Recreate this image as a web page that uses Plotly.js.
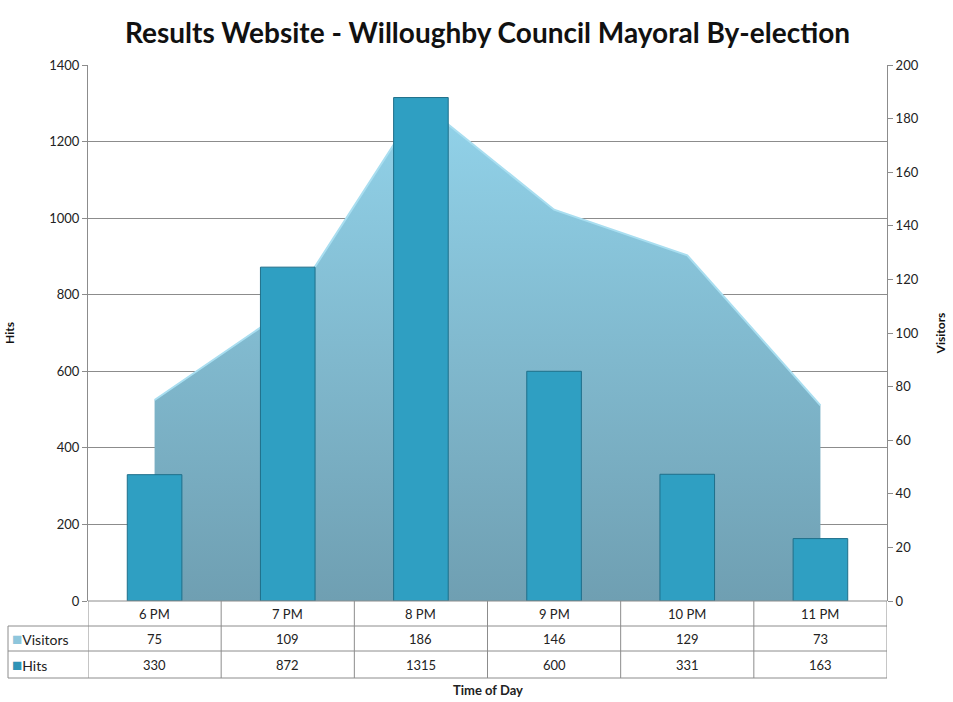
<!DOCTYPE html>
<html>
<head>
<meta charset="utf-8">
<script src="https://cdn.plot.ly/plotly-3.0.1.min.js"></script>
<style>html,body{margin:0;padding:0;background:#fff;}#chart{width:953px;height:702px;}</style>
</head>
<body>
<div id="chart"></div>
<script>
const categories = ['6 PM', '7 PM', '8 PM', '9 PM', '10 PM', '11 PM'];
const visitors = [75, 109, 186, 146, 129, 73];
const hits = [330, 872, 1315, 600, 331, 163];
const hitsTicks = [0, 200, 400, 600, 800, 1000, 1200, 1400];
const visitorTicks = [0, 20, 40, 60, 80, 100, 120, 140, 160, 180, 200];
const rowLabels = ['Visitors', 'Hits'];

const FONT = 'Lato, "Open Sans", sans-serif';
const idx = categories.map((c, i) => i);

const traces = [
  {
    type: 'scatter', mode: 'lines', name: 'Visitors',
    x: idx, y: visitors, xaxis: 'x', yaxis: 'y',
    fill: 'tozeroy',
    fillgradient: {type: 'vertical', colorscale: [[0, '#6f9fb2'], [1, '#92d3ea']]},
    fillcolor: '#80b9cf',
    line: {color: '#a9def0', width: 2},
    hoverinfo: 'skip'
  },
  {
    type: 'bar', name: 'Hits',
    x: idx, y: hits, xaxis: 'x', yaxis: 'y2',
    width: 0.41,
    marker: {color: '#2f9fc2', line: {color: '#1f6f8a', width: 1}},
    hoverinfo: 'skip'
  }
];

// table geometry (paper fractions of plot height 536px)
const rowH = [0, -25/536, -50/536, -77/536];
const leftX = -80/799;
const shapes = [];
const lineC = '#8c8c8c';
shapes.push({type:'line', xref:'paper', yref:'paper', x0:0, x1:1, y0:rowH[0], y1:rowH[0], line:{color:lineC, width:1}});
for (let r = 1; r < rowH.length; r++) {
  shapes.push({type:'line', xref:'paper', yref:'paper', x0:leftX, x1:1, y0:rowH[r], y1:rowH[r], line:{color:lineC, width:1}});
}
shapes.push({type:'line', xref:'paper', yref:'paper', x0:leftX, x1:leftX, y0:rowH[1], y1:rowH[3], line:{color:lineC, width:1}});
for (let i = 0; i <= categories.length; i++) {
  shapes.push({type:'line', xref:'x', yref:'paper', x0:i - 0.5, x1:i - 0.5, y0:rowH[0], y1:rowH[3], line:{color:lineC, width:1}});
}

const annotations = [];
const rows = [visitors, hits];
const keyColors = ['#8ec6dc', '#2f93b6'];
categories.forEach((c, i) => {
  annotations.push({xref:'x', yref:'paper', x:i, y:(rowH[0]+rowH[1])/2, text:c, showarrow:false, font:{size:13, color:'#222', family:FONT}, yanchor:'middle'});
  rows.forEach((vals, r) => {
    annotations.push({xref:'x', yref:'paper', x:i, y:(rowH[r+1]+rowH[r+2])/2, text:String(vals[i]), showarrow:false, font:{size:13, color:'#222', family:FONT}, yanchor:'middle'});
  });
});
rowLabels.forEach((lab, r) => {
  annotations.push({xref:'paper', yref:'paper', x:leftX + 0.003, xanchor:'left', y:(rowH[r+1]+rowH[r+2])/2, yanchor:'middle',
    text:'<span style="font-size:17px;color:' + keyColors[r] + '">■</span>' + lab, showarrow:false, font:{size:14, color:'#222', family:FONT}});
});
annotations.push({xref:'paper', yref:'paper', x:0.5, y:-(690-601)/536, yanchor:'middle', text:'<b>Time of Day</b>', showarrow:false, font:{size:13, color:'#222', family:FONT}});

const layout = {
  width: 953, height: 702,
  margin: {l: 88, r: 66, t: 65, b: 101},
  paper_bgcolor: '#fff', plot_bgcolor: '#fff',
  showlegend: false,
  font: {family: FONT, color: '#222', size: 13},
  title: {text: '<b>Results Website - Willoughby Council Mayoral By-election</b>', x: 0.5, xref: 'paper', y: 1 - 33/702, yref: 'container', yanchor: 'middle', font: {size: 28, color: '#111', family: FONT}},
  xaxis: {range: [-0.5, categories.length - 0.5], tickvals: idx, showticklabels: false, ticks: '', showgrid: false, zeroline: false, showline: false, fixedrange: true},
  yaxis: {side: 'right', range: [0, 200], tickvals: visitorTicks, ticks: 'outside', ticklen: 5, tickcolor: '#8c8c8c', showgrid: false, zeroline: false, showline: true, linecolor: '#8c8c8c', linewidth: 1,
    title: {text: '<b>Visitors</b>', font: {size: 12, color: '#111'}, standoff: 18}, tickfont: {size: 13}},
  yaxis2: {side: 'left', overlaying: 'y', range: [0, 1400], tickvals: hitsTicks, ticks: 'outside', ticklen: 5, tickcolor: '#8c8c8c', showgrid: true, gridcolor: '#8c8c8c', gridwidth: 1, zeroline: false, showline: true, linecolor: '#8c8c8c', linewidth: 1,
    title: {text: '<b>Hits</b>', font: {size: 12, color: '#111'}, standoff: 32}, tickfont: {size: 13}},
  shapes: shapes,
  annotations: annotations
};

Plotly.newPlot('chart', traces, layout, {displayModeBar: false, staticPlot: true});
</script>
</body>
</html>
